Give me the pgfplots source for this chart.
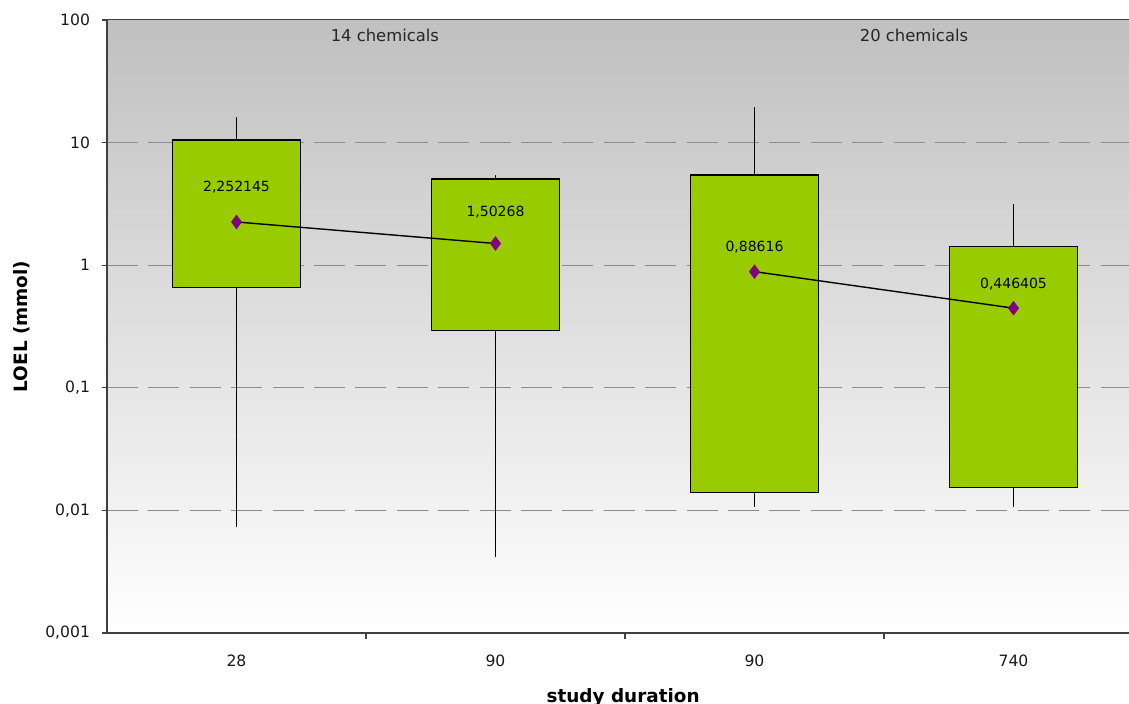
\documentclass[border=0pt]{standalone}
\usepackage{pgfplots}
\pgfplotsset{compat=1.18}
\usepackage{pgfplotstable}
\usepackage{fontspec}
\setmainfont{DejaVu Sans}

\definecolor{boxgreen}{HTML}{99CC00}
\definecolor{meanpurple}{HTML}{800080}
\definecolor{axisgray}{HTML}{404040}
\definecolor{gridgray}{HTML}{8C8C8C}
\definecolor{bgtop}{HTML}{C0C0C0}
\definecolor{bgmid}{HTML}{E0E0E0}

% geometric means per study duration, with label offsets (bp)
\pgfplotstableread{
x y lab dy
0 2.252145 2,252145 17.5
1 1.50268 1,50268 15.5
}\meanA
\pgfplotstableread{
x y lab dy
2 0.88616 0,88616 12.5
3 0.446405 0,446405 12
}\meanB

\begin{document}
\begin{tikzpicture}
\begin{axis}[
  at={(53.5bp,35.5bp)}, anchor=south west,
  scale only axis, width=511bp, height=306.5bp,
  ymode=log, ymin=0.001, ymax=100,
  xmin=-0.5, xmax=3.446,
  axis lines*=left,
  axis line style={axisgray, line width=0.7bp},
  axis background/.style={top color=bgtop, middle color=bgmid, bottom color=white},
  ytick={0.001,0.01,0.1,1,10,100},
  yticklabels={{0,001},{0,01},{0,1},1,10,100},
  yminorticks=false,
  xtick={0,1,2,3},
  xticklabels={28,90,90,740},
  minor xtick={0.5,1.5,2.5},
  tick align=outside,
  major tick length=2.5bp, minor tick length=3bp,
  major x tick style={draw=none},
  minor x tick style={axisgray, line width=0.6bp},
  ytick style={axisgray, line width=0.6bp},
  ymajorgrids,
  major grid style={gridgray, dash pattern=on 15.5bp off 5.2bp, line width=0.5bp},
  tick label style={font=\fontsize{7.8bp}{9bp}\selectfont, text=black!90},
  yticklabel style={xshift=-2.5bp},
  xticklabel style={yshift=-5bp},
  xlabel={study duration},
  ylabel={LOEL (mmol)},
  label style={font=\bfseries\fontsize{9.2bp}{11bp}\selectfont},
  ylabel style={at={(axis description cs:-0.0837,0.5)}, anchor=center},
  xlabel style={at={(axis description cs:0.505,-0.1126)}, anchor=base},
  unbounded coords=jump,
]
% whiskers: min to max per duration
\addplot[black, line width=0.7bp] coordinates {
  (0,0.00728) (0,16.3) (0,nan)
  (1,0.00419) (1,5.44) (1,nan)
  (2,0.0107) (2,19.6) (2,nan)
  (3,0.0107) (3,3.16)
};
% boxes: lower to upper quartile (14 chemicals: 28, 90 d; 20 chemicals: 90, 740 d)
\addplot[draw=black, fill=boxgreen, line width=0.6bp]
  coordinates {(-0.247,0.66) (0.247,0.66) (0.247,10.5) (-0.247,10.5)} -- cycle;
\addplot[draw=black, fill=boxgreen, line width=0.6bp]
  coordinates {(0.753,0.292) (1.247,0.292) (1.247,5.05) (0.753,5.05)} -- cycle;
\addplot[draw=black, fill=boxgreen, line width=0.6bp]
  coordinates {(1.753,0.0140) (2.247,0.0140) (2.247,5.44) (1.753,5.44)} -- cycle;
\addplot[draw=black, fill=boxgreen, line width=0.6bp]
  coordinates {(2.753,0.0154) (3.247,0.0154) (3.247,1.42) (2.753,1.42)} -- cycle;

% mean values joined within each group
\pgfplotsset{meanstyle/.style={black, line width=0.7bp, mark=diamond*, mark size=3.1bp,
  mark options={draw=meanpurple, fill=meanpurple},
  point meta=explicit symbolic, nodes near coords,
  visualization depends on={\thisrow{dy}\as\dy},
  every node near coord/.append style={anchor=center, yshift=\dy bp, text=black,
    font=\fontsize{7bp}{8bp}\selectfont}}}
\addplot[meanstyle] table[x=x, y=y, meta=lab] {\meanA};
\addplot[meanstyle] table[x=x, y=y, meta=lab] {\meanB};

\node[font=\fontsize{8.2bp}{10bp}\selectfont, text=black!85] at (axis cs:0.573,75.5) {14 chemicals};
\node[font=\fontsize{8.2bp}{10bp}\selectfont, text=black!85] at (axis cs:2.616,75.5) {20 chemicals};
\draw[axisgray, line width=0.5bp] (rel axis cs:0,1) -- (rel axis cs:1,1);
\end{axis}
\pgfresetboundingbox
\useasboundingbox (0,0) rectangle (564.5bp,352bp);
\end{tikzpicture}
\end{document}
